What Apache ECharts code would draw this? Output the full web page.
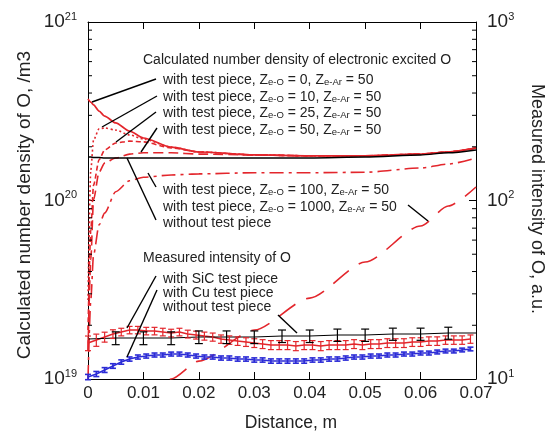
<!DOCTYPE html>
<html><head><meta charset="utf-8">
<script src="https://cdn.jsdelivr.net/npm/echarts@6/dist/echarts.min.js"></script>
<style>html,body{margin:0;padding:0;background:#fff}#c{width:548px;height:437px}</style>
</head><body><div id="c"></div>
<script>
// ---------- data ----------
const xCalc = [0, 0.0005, 0.001, 0.002, 0.003, 0.005, 0.0075, 0.01, 0.015, 0.02, 0.03, 0.04, 0.05, 0.06, 0.065, 0.07];
const calcZe0    = [3.70e20, 3.56e20, 3.43e20, 3.17e20, 2.97e20, 2.72e20, 2.45e20, 2.24e20, 1.99e20, 1.87e20, 1.80e20, 1.78e20, 1.78e20, 1.82e20, 1.87e20, 1.97e20];
const calcZe10   = [2.77e19, 1.48e20, 2.18e20, 2.52e20, 2.55e20, 2.48e20, 2.33e20, 2.21e20, 1.99e20, 1.87e20, 1.80e20, 1.78e20, 1.78e20, 1.82e20, 1.87e20, 1.97e20];
const calcZe25   = [1.88e19, 6.8e19, 1.22e20, 1.69e20, 1.92e20, 2.10e20, 2.15e20, 2.13e20, 1.97e20, 1.87e20, 1.80e20, 1.78e20, 1.78e20, 1.82e20, 1.87e20, 1.97e20];
const calcZe50   = [1.45e19, 4.64e19, 1.01e20, 1.44e20, 1.62e20, 1.73e20, 1.82e20, 1.85e20, 1.85e20, 1.82e20, 1.80e20, 1.78e20, 1.78e20, 1.82e20, 1.87e20, 1.97e20];
const calcZe100  = [1.0e19, 2.77e19, 4.95e19, 7.3e19, 8.5e19, 1.12e20, 1.29e20, 1.35e20, 1.39e20, 1.41e20, 1.43e20, 1.43e20, 1.44e20, 1.52e20, 1.60e20, 1.73e20];
const calcZe1000 = [null, null, null, null, null, null, null, 7.9e18, 1.0e19, 1.26e19, 1.88e19, 2.84e19, 4.52e19, 7.2e19, 9.31e19, 1.19e20];
const calcNone   = [1.75e20, 1.75e20, 1.74e20, 1.74e20, 1.73e20, 1.73e20, 1.73e20, 1.73e20, 1.73e20, 1.73e20, 1.73e20, 1.73e20, 1.75e20, 1.80e20, 1.85e20, 1.92e20];

const measX = [0, 0.0015, 0.003, 0.0045, 0.006, 0.0075, 0.009, 0.0105, 0.012, 0.0135, 0.015, 0.0165, 0.018, 0.0195, 0.021, 0.0225, 0.024, 0.0255, 0.027, 0.0285, 0.03, 0.0315, 0.033, 0.0345, 0.036, 0.0375, 0.039, 0.0405, 0.042, 0.0435, 0.045, 0.0465, 0.048, 0.0495, 0.051, 0.0525, 0.054, 0.0555, 0.057, 0.0585, 0.06, 0.0615, 0.063, 0.0645, 0.066, 0.0675, 0.069];
const measSiC = [15.91, 16.54, 17.19, 17.87, 18.34, 18.81, 18.81, 18.57, 18.57, 18.34, 18.10, 18.34, 17.87, 17.64, 17.41, 17.19, 16.75, 16.54, 16.32, 16.12, 15.91, 15.71, 15.51, 15.51, 15.51, 15.31, 15.51, 15.51, 15.31, 15.51, 15.51, 15.51, 15.71, 15.51, 15.71, 15.71, 15.91, 15.91, 15.91, 16.12, 16.12, 16.32, 16.32, 16.54, 16.54, 16.54, 16.75];
const errSiC  = [1.5, 1.3, 1.1, 1.0, 0.9, 0.9, 0.9, 0.9, 0.9, 0.9, 0.9, 0.9, 0.9, 0.9, 0.9, 0.9, 0.9, 0.9, 0.9, 0.9, 0.9, 0.9, 0.9, 0.9, 0.9, 0.9, 0.9, 0.9, 0.9, 0.9, 0.9, 0.9, 0.9, 0.9, 0.9, 0.9, 0.9, 0.9, 0.9, 0.9, 0.9, 0.9, 0.9, 0.9, 0.9, 0.9, 0.9];
const measCu  = [10.26, 10.67, 11.23, 11.83, 12.45, 12.94, 13.28, 13.45, 13.63, 13.63, 13.80, 13.80, 13.63, 13.45, 13.28, 13.28, 13.11, 13.11, 12.94, 12.94, 12.78, 12.78, 12.61, 12.61, 12.61, 12.61, 12.61, 12.78, 12.78, 12.94, 12.94, 13.11, 13.28, 13.28, 13.45, 13.45, 13.63, 13.63, 13.80, 13.80, 13.98, 13.98, 14.17, 14.35, 14.35, 14.54, 14.73];
const errCu   = [0.35, 0.35, 0.35, 0.35, 0.35, 0.35, 0.35, 0.35, 0.35, 0.35, 0.35, 0.35, 0.35, 0.35, 0.35, 0.35, 0.35, 0.35, 0.35, 0.35, 0.35, 0.35, 0.35, 0.35, 0.35, 0.35, 0.35, 0.35, 0.35, 0.35, 0.35, 0.35, 0.35, 0.35, 0.35, 0.35, 0.35, 0.35, 0.35, 0.35, 0.35, 0.35, 0.35, 0.35, 0.35, 0.35, 0.35];
const measNoneX = [0, 0.005, 0.01, 0.015, 0.02, 0.025, 0.03, 0.035, 0.04, 0.045, 0.05, 0.055, 0.06, 0.065, 0.07];
const measNone  = [16.75, 16.97, 16.97, 16.97, 17.19, 17.19, 17.19, 17.41, 17.41, 17.64, 17.64, 17.87, 17.87, 18.10, 18.10];
const errNone   = [0, 1.4, 1.4, 1.4, 1.4, 1.4, 1.4, 1.4, 1.4, 1.4, 1.4, 1.4, 1.4, 1.4, 0];

const xTicks = [0, 0.01, 0.02, 0.03, 0.04, 0.05, 0.06, 0.07];
const leftMinor  = [2e19, 3e19, 4e19, 5e19, 6e19, 7e19, 8e19, 9e19, 2e20, 3e20, 4e20, 5e20, 6e20, 7e20, 8e20, 9e20];
const rightMinor = [20, 30, 40, 50, 60, 70, 80, 90, 200, 300, 400, 500, 600, 700, 800, 900];

// ---------- styling ----------
const FF = '"Liberation Sans", Arial, Helvetica, sans-serif';
const RED = '#e3262c', BLUE = '#2b2bd6', BLACK = '#000', TXT = '#222';

const chart = echarts.init(document.getElementById('c'), null, {renderer: 'canvas'});

function pairs(xs, ys) {
  const out = [];
  xs.forEach((x, i) => { if (ys[i] != null) out.push([x, ys[i]]); });
  return out;
}
function calcLine(name, ys, color, type, width) {
  return {
    name, type: 'line', xAxisIndex: 0, yAxisIndex: 0, data: pairs(xCalc, ys),
    showSymbol: false, smooth: 0.25, smoothMonotone: 'x', clip: true, silent: true,
    lineStyle: {color, width: width || 1.6, type}, z: 3
  };
}
function measLine(name, xs, ys, color, width) {
  return {
    name, type: 'line', xAxisIndex: 0, yAxisIndex: 1, data: pairs(xs, ys),
    showSymbol: false, clip: true, silent: true, lineStyle: {color, width}, z: 4
  };
}
function errSeries(xs, ys, es, color, capW, lw) {
  return {
    type: 'custom', xAxisIndex: 0, yAxisIndex: 1, silent: true, z: 5,
    data: xs.map((x, i) => [x, ys[i] - es[i], ys[i] + es[i]]),
    encode: {x: 0, y: [1, 2]},
    renderItem(params, api) {
      const x = api.value(0), lo = api.value(1), hi = api.value(2);
      if (!(hi > lo)) return null;
      const p1 = api.coord([x, lo]), p2 = api.coord([x, hi]);
      const h = capW / 2, st = {stroke: color, lineWidth: lw};
      return {type: 'group', children: [
        {type: 'line', shape: {x1: p1[0], y1: p1[1], x2: p2[0], y2: p2[1]}, style: st},
        {type: 'line', shape: {x1: p1[0] - h, y1: p1[1], x2: p1[0] + h, y2: p1[1]}, style: st},
        {type: 'line', shape: {x1: p2[0] - h, y1: p2[1], x2: p2[0] + h, y2: p2[1]}, style: st}
      ]};
    }
  };
}
function minorTicks(vals, yIdx, xVal, dir) {
  return {
    type: 'custom', xAxisIndex: 0, yAxisIndex: yIdx, silent: true, z: 6,
    data: vals.map(v => [xVal, v]), encode: {x: 0, y: 1},
    renderItem(params, api) {
      const p = api.coord([api.value(0), api.value(1)]);
      return {type: 'line', shape: {x1: p[0], y1: p[1], x2: p[0] + dir * 4, y2: p[1]},
              style: {stroke: BLACK, lineWidth: 1}};
    }
  };
}

const supFmt = v => '{b|10}{s|' + Math.round(Math.log10(v)) + '}';
const supRich = {
  b: {fontSize: 19, fontFamily: FF, color: TXT, lineHeight: 22},
  s: {fontSize: 11, fontFamily: FF, color: TXT, lineHeight: 12, verticalAlign: 'top'}
};
const axisCommonX = {
  type: 'value', min: 0, max: 0.07, interval: 0.01,
  axisLine: {onZero: false, lineStyle: {color: BLACK, width: 1}},
  axisTick: {inside: true, length: 7, lineStyle: {color: BLACK, width: 1}},
  splitLine: {show: false}
};

// ---------- annotation graphics ----------
const subRich = {s: {fontSize: 9.5, fontFamily: FF, fill: TXT, color: TXT, verticalAlign: 'bottom', lineHeight: 13}};
function txt(x, y, text, size) {
  return {type: 'text', x, y, silent: true, z: 100,
    style: {text, fontSize: size || 14, fontFamily: FF, fill: TXT, align: 'left', verticalAlign: 'middle', rich: subRich}};
}
function lead(x1, y1, x2, y2) {
  return {type: 'line', silent: true, z: 100, shape: {x1, y1, x2, y2}, style: {stroke: BLACK, lineWidth: 1.4}};
}
const calcLabels = [
  'with test piece, Z{s|e-O} = 0, Z{s|e-Ar} = 50',
  'with test piece, Z{s|e-O} = 10, Z{s|e-Ar} = 50',
  'with test piece, Z{s|e-O} = 25, Z{s|e-Ar} = 50',
  'with test piece, Z{s|e-O} = 50, Z{s|e-Ar} = 50',
  'with test piece, Z{s|e-O} = 100, Z{s|e-Ar} = 50',
  'with test piece, Z{s|e-O} = 1000, Z{s|e-Ar} = 50',
  'without test piece'
];
const measLabels = ['with SiC test piece', 'with Cu test piece', 'without test piece'];

const graphics = [
  txt(143, 60, 'Calculated number density of electronic excited O'),
  txt(163, 80, calcLabels[0]), txt(163, 97, calcLabels[1]), txt(163, 113, calcLabels[2]), txt(163, 130, calcLabels[3]),
  txt(163, 190, calcLabels[4]), txt(163, 207, calcLabels[5]), txt(163, 223, calcLabels[6]),
  txt(143, 258, 'Measured intensity of O'),
  txt(163, 279, measLabels[0]), txt(163, 293, measLabels[1]), txt(163, 307, measLabels[2]),
  lead(156, 79, 92, 102), lead(157, 96, 102, 127), lead(156, 112, 116, 142), lead(157, 128, 141, 152),
  lead(156, 187, 148, 173), lead(408, 205, 428, 221), lead(156, 220, 127, 158),
  lead(156, 276, 127, 328), lead(157, 290, 127, 357), lead(278, 315, 297, 333),
  {type: 'text', x: 25, y: 205, rotation: Math.PI / 2, silent: true,
   style: {text: 'Calculated number density of O, /m3', fontSize: 19, fontFamily: FF, fill: TXT, align: 'center', verticalAlign: 'middle'}},
  {type: 'text', x: 537, y: 199, rotation: -Math.PI / 2, silent: true,
   style: {text: 'Measured intensity of O, a.u.', fontSize: 18, fontFamily: FF, fill: TXT, align: 'center', verticalAlign: 'middle'}},
  {type: 'text', x: 291, y: 423, silent: true,
   style: {text: 'Distance, m', fontSize: 17.5, fontFamily: FF, fill: TXT, align: 'center', verticalAlign: 'middle'}}
];

const option = {
  animation: false,
  backgroundColor: '#fff',
  grid: {left: 88, right: 72, top: 22, bottom: 58, containLabel: false, outerBoundsMode: 'none'},
  xAxis: [
    Object.assign({}, axisCommonX, {position: 'bottom',
      axisLabel: {formatter: v => (v === 0 ? '0' : v.toFixed(2)), fontSize: 17, fontFamily: FF, color: TXT, margin: 6, showMinLabel: true, showMaxLabel: true,
        customValues: xTicks}}),
    Object.assign({}, axisCommonX, {position: 'top', axisLabel: {show: false}})
  ],
  yAxis: [
    {type: 'log', logBase: 10, min: 1e19, max: 1e21, position: 'left',
     axisLine: {show: true, onZero: false, lineStyle: {color: BLACK, width: 1}},
     axisTick: {show: true, inside: true, length: 7, lineStyle: {color: BLACK, width: 1}},
     axisLabel: {formatter: supFmt, rich: supRich, margin: 11},
     splitLine: {show: false}},
    {type: 'log', logBase: 10, min: 10, max: 1000, position: 'right',
     axisLine: {show: true, onZero: false, lineStyle: {color: BLACK, width: 1}},
     axisTick: {show: true, inside: true, length: 7, lineStyle: {color: BLACK, width: 1}},
     axisLabel: {formatter: supFmt, rich: supRich, margin: 11},
     splitLine: {show: false}}
  ],
  series: [
    calcLine('Ze-O=0', calcZe0, RED, 'solid', 1.7),
    calcLine('Ze-O=10', calcZe10, RED, [2, 2.5], 1.6),
    calcLine('Ze-O=25', calcZe25, RED, [5, 3], 1.6),
    calcLine('Ze-O=50', calcZe50, RED, [10, 5], 1.6),
    calcLine('Ze-O=100', calcZe100, RED, [14, 5, 3, 5], 1.6),
    calcLine('Ze-O=1000', calcZe1000, RED, [20, 12], 1.6),
    calcLine('without', calcNone, BLACK, 'solid', 1.5),
    measLine('SiC', measX, measSiC, RED, 1.4),
    measLine('Cu', measX, measCu, BLUE, 1.6),
    measLine('none', measNoneX, measNone, BLACK, 1.2),
    errSeries(measX, measSiC, errSiC, RED, 6, 1.2),
    errSeries(measX, measCu, errCu, BLUE, 6, 1.6),
    errSeries(measNoneX, measNone, errNone, BLACK, 8, 1.2),
    minorTicks(leftMinor, 0, 0, 1),
    minorTicks(rightMinor, 1, 0.07, -1)
  ],
  graphic: graphics
};
chart.setOption(option);
</script></body></html>
